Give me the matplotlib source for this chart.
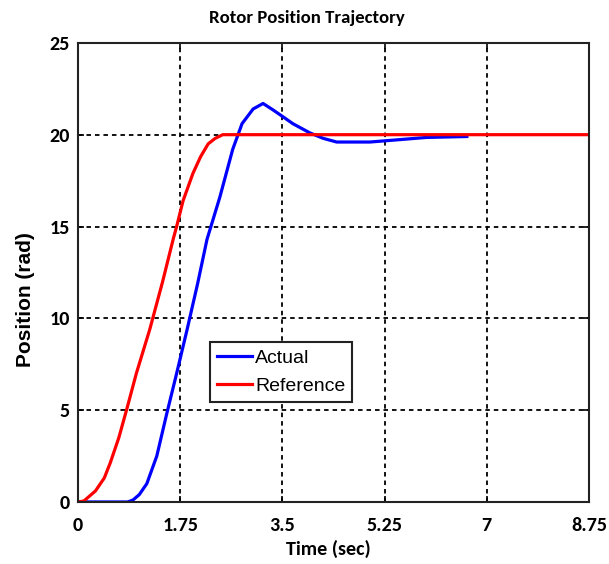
import matplotlib
matplotlib.use("Agg")
import matplotlib.pyplot as plt

# Reference trajectory (rad) vs time (sec)
ref_t = [0.0, 0.1, 0.3, 0.45, 0.55, 0.7, 0.84, 1.0, 1.23, 1.45, 1.63, 1.69, 1.8, 1.97, 2.1, 2.23, 2.35, 2.48, 3.5, 5.25, 7.0, 8.75]
ref_y = [0.0, 0.05, 0.6, 1.3, 2.1, 3.5, 5.1, 7.0, 9.4, 12.0, 14.3, 15.0, 16.4, 17.9, 18.8, 19.5, 19.8, 20.0, 20.0, 20.0, 20.0, 20.0]

# Actual rotor position (rad) vs time (sec)
act_t = [0.0, 0.5, 0.85, 0.94, 1.05, 1.18, 1.35, 1.52, 1.69, 1.87, 2.05, 2.21, 2.43, 2.65, 2.81, 3.0, 3.17, 3.34, 3.5, 3.68, 3.97, 4.2, 4.43, 4.7, 5.0, 5.39, 5.97, 6.66]
act_y = [0.0, 0.0, 0.0, 0.1, 0.4, 1.0, 2.5, 4.8, 7.0, 9.4, 11.9, 14.3, 16.6, 19.2, 20.6, 21.4, 21.7, 21.35, 21.0, 20.6, 20.1, 19.8, 19.6, 19.6, 19.6, 19.7, 19.85, 19.9]

x_ticks = [0, 1.75, 3.5, 5.25, 7, 8.75]
x_tick_labels = ["0", "1.75", "3.5", "5.25", "7", "8.75"]
y_ticks = [0, 5, 10, 15, 20, 25]

narrow = ["Carlito", "Liberation Sans Narrow", "DejaVu Sans"]
arial = ["Arimo", "Liberation Sans", "DejaVu Sans"]

fig = plt.figure(figsize=(6.09, 5.64), dpi=100)
ax = fig.add_axes([0.128, 0.110, 0.839, 0.814])

ax.plot(act_t, act_y, color="#0000ff", linewidth=2.3, label="Actual")
ax.plot(ref_t, ref_y, color="#ff0000", linewidth=2.3, label="Reference")

ax.set_xlim(0, 8.75)
ax.set_ylim(0, 25)
ax.set_xticks(x_ticks)
ax.set_xticklabels(x_tick_labels)
ax.set_yticks(y_ticks)
ax.tick_params(direction="in", length=4, width=1.2, top=True, right=True)
ax.tick_params(axis="x", pad=11)
ax.tick_params(axis="y", pad=6)
for lbl in ax.get_xticklabels() + ax.get_yticklabels():
    lbl.set_family(narrow)
    lbl.set_fontweight("bold")
    lbl.set_fontsize(14.5)

ax.grid(True, color="black", linestyle=(0, (2.5, 2.2)), linewidth=1.3)
for sp in ax.spines.values():
    sp.set_linewidth(1.5)
    sp.set_color("#222222")

fig.text(0.504, 0.968, "Rotor Position Trajectory", family=narrow, fontweight="bold",
         fontsize=13.5, ha="center", va="center")
ax.set_xlabel("Time (sec)", family=narrow, fontweight="bold", fontsize=14.5)
ax.xaxis.set_label_coords(0.49, -0.083)
ax.set_ylabel("Position (rad)", family=arial, fontweight="bold", fontsize=15)
ax.yaxis.set_label_coords(-0.084, 0.44)

leg = ax.legend(loc="lower left", bbox_to_anchor=(0.24, 0.197), fancybox=False, framealpha=1,
                edgecolor="#222222", prop={"family": arial, "size": 14},
                handlelength=1.8, handletextpad=0.15, borderpad=0.35, labelspacing=0.55)
leg.get_frame().set_linewidth(1.5)

fig.savefig("out.png", dpi=100)
plt.close(fig)
